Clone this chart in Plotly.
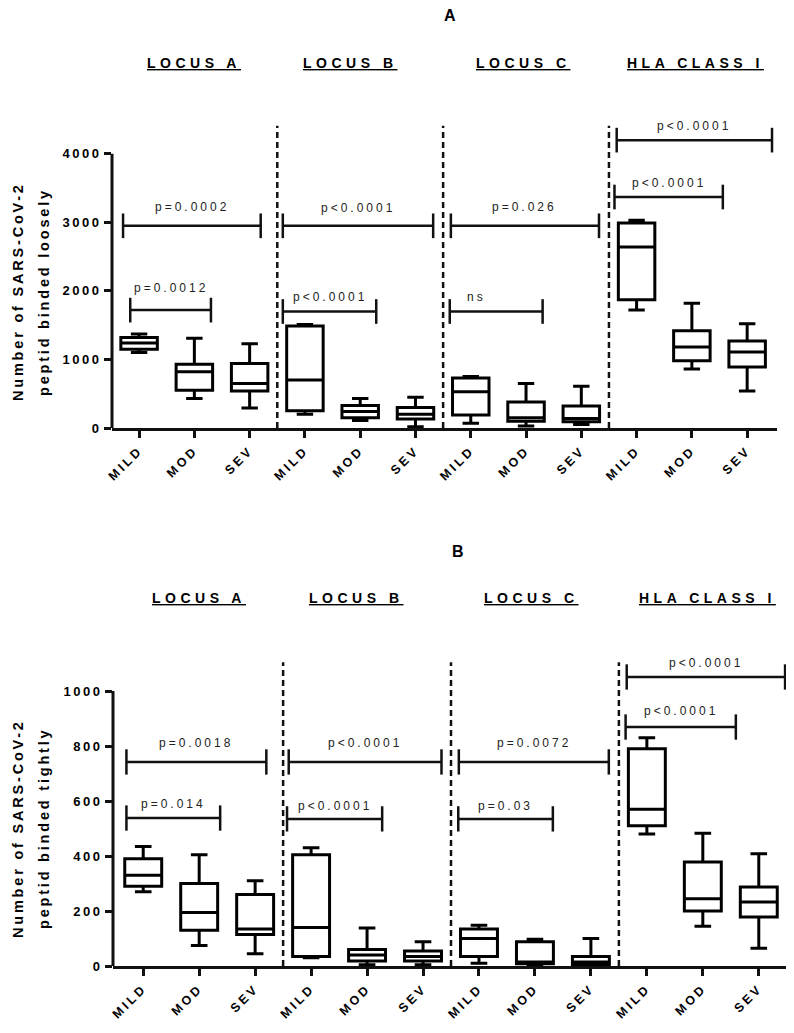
import plotly.graph_objects as go

W, H = 794, 1033
OFF = 8  # page body margin offset of the rendered figure
FONT = "Liberation Sans, Arial, sans-serif"

groups = ["LOCUS A", "LOCUS B", "LOCUS C", "HLA CLASS I"]
severity = ["MILD", "MOD", "SEV"]
tick_labels = [s for g in groups for s in severity]
positions = list(range(len(tick_labels)))

# Panel A: peptides binded loosely
min_A = [1100, 430, 290, 200, 110, 20, 70, 30, 50, 1720, 860, 540]
q1_A = [1150, 550, 540, 250, 150, 130, 190, 100, 90, 1870, 980, 890]
med_A = [1240, 820, 650, 700, 240, 200, 530, 150, 140, 2640, 1180, 1110]
q3_A = [1320, 930, 940, 1490, 330, 300, 730, 380, 320, 2990, 1420, 1270]
max_A = [1370, 1310, 1230, 1510, 430, 450, 750, 650, 610, 3030, 1820, 1520]

# Panel B: peptides binded tightly
min_B = [270, 75, 45, 30, 5, 5, 10, 2, 0, 480, 145, 65]
q1_B = [290, 130, 115, 35, 18, 18, 35, 8, 5, 510, 200, 178]
med_B = [330, 195, 135, 140, 40, 35, 100, 15, 15, 570, 245, 233]
q3_B = [390, 300, 260, 405, 60, 55, 135, 88, 35, 790, 378, 287]
max_B = [435, 405, 310, 430, 138, 88, 148, 97, 100, 830, 483, 408]

yticks_A = [0, 1000, 2000, 3000, 4000]
yticks_B = [0, 200, 400, 600, 800, 1000]

# significance labels (x0, x1, y, label, label offset px)
sig_A = [(-0.29, 2.2, 2950, "p=0.0002", 19), (-0.16, 1.3, 1720, "p=0.0012", 22),
         (2.6, 5.32, 2950, "p<0.0001", 18), (2.6, 4.29, 1700, "p<0.0001", 14),
         (5.64, 8.32, 2950, "p=0.026", 19), (5.62, 7.3, 1700, "ns", 14),
         (8.64, 11.45, 4200, "p<0.0001", 14), (8.6, 10.56, 3370, "p<0.0001", 14)]
sig_B = [(-0.3, 2.2, 742, "p=0.0018", 19), (-0.3, 1.375, 538, "p=0.014", 14),
         (2.6, 5.33, 742, "p<0.0001", 19), (2.57, 4.27, 535, "p<0.0001", 13),
         (5.64, 8.32, 742, "p=0.0072", 19), (5.63, 7.32, 535, "p=0.03", 13),
         (8.64, 11.47, 1051, "p<0.0001", 14), (8.62, 10.59, 869, "p<0.0001", 16)]

ytitle_A = ["Number of SARS-CoV-2", "peptid binded loosely"]
ytitle_B = ["Number of SARS-CoV-2", "peptid binded tightly"]


def sp(text, ls):
    return f'<span style="letter-spacing:{ls}px">{text}</span>'


def px_x(p):
    return (p - OFF) / W


def px_y(p):
    return 1 - (p - OFF) / H


fig = go.Figure()

panels = [
    dict(xa="x", ya="y", mn=min_A, q1=q1_A, md=med_A, q3=q3_A, mx=max_A,
         xdom=[px_x(112), px_x(777)], xr=[-0.49, 11.54],
         ydom=[px_y(428), px_y(123)], yr=[0, 4450], yt=yticks_A, ytop=4000,
         dash_top=4410, tickh=180, sig=sig_A, title="A", title_xy=(450, 15),
         head_y=63, head_x=[1, 3.82, 6.95, 10.07], ytitle=ytitle_A, ytitle_y=292),
    dict(xa="x2", ya="y2", mn=min_B, q1=q1_B, md=med_B, q3=q3_B, mx=max_B,
         xdom=[px_x(113), px_x(789)], xr=[-0.54, 11.54],
         ydom=[px_y(966), px_y(658)], yr=[0, 1120], yt=yticks_B, ytop=1000,
         dash_top=1105, tickh=46, sig=sig_B, title="B", title_xy=(458, 551),
         head_y=598, head_x=[1, 3.82, 6.93, 10.09], ytitle=ytitle_B, ytitle_y=829),
]

shapes = []
annotations = []
LC = "#111111"

for i, p in enumerate(panels):
    fig.add_trace(go.Box(
        x=positions, q1=p["q1"], median=p["md"], q3=p["q3"],
        lowerfence=p["mn"], upperfence=p["mx"],
        width=0.66, whiskerwidth=0.45,
        line=dict(color="black", width=3), fillcolor="white",
        boxpoints=False, hoverinfo="skip", showlegend=False,
        xaxis=p["xa"], yaxis=p["ya"]))

    sfx = "" if i == 0 else "2"
    fig.update_layout(**{
        "xaxis" + sfx: dict(domain=p["xdom"], range=p["xr"], tickvals=positions,
                            ticktext=[sp(t, 3) for t in tick_labels], tickangle=-45,
                            tickfont=dict(size=12.5, weight="bold", color="black", family=FONT),
                            showline=True, linecolor=LC, linewidth=3, ticks="outside",
                            ticklen=7, tickwidth=2.5, tickcolor=LC, showgrid=False,
                            zeroline=False, anchor="y" + sfx, fixedrange=True,
                            automargin=False),
        "yaxis" + sfx: dict(domain=p["ydom"], range=p["yr"], tickvals=p["yt"],
                            ticktext=[sp(v, 2.5) for v in p["yt"]],
                            tickfont=dict(size=13, weight="bold", color="black", family=FONT),
                            showline=False, ticks="outside", ticklen=7, tickwidth=2.5,
                            tickcolor=LC, showgrid=False, zeroline=False,
                            anchor="x" + sfx, fixedrange=True, automargin=False),
    })

    # y axis line only up to top tick
    shapes.append(dict(type="line", xref=p["xa"] + " domain", yref=p["ya"],
                       x0=0, x1=0, y0=0, y1=p["ytop"], line=dict(color=LC, width=3)))
    # dashed separators
    for xs in [2.5, 5.5, 8.5]:
        shapes.append(dict(type="line", xref=p["xa"], yref=p["ya"], x0=xs, x1=xs,
                           y0=0, y1=p["dash_top"], line=dict(color=LC, width=2.5, dash="6px,4px")))
    # significance brackets
    for (x0, x1, yv, lab, off) in p["sig"]:
        h = p["tickh"]
        shapes.append(dict(type="line", xref=p["xa"], yref=p["ya"], x0=x0, x1=x1,
                           y0=yv, y1=yv, line=dict(color=LC, width=2.5)))
        for xe in (x0, x1):
            shapes.append(dict(type="line", xref=p["xa"], yref=p["ya"], x0=xe, x1=xe,
                               y0=yv - h, y1=yv + h, line=dict(color=LC, width=2.5)))
        annotations.append(dict(xref=p["xa"], yref=p["ya"], x=(x0 + x1) / 2, y=yv,
                                yshift=off, xshift=(-20 if lab == "ns" else 0),
                                text=sp(lab, 3), showarrow=False, yanchor="middle",
                                xanchor="center",
                                font=dict(size=12, color="#222222", family=FONT)))
    # headers
    for g, hx in zip(groups, p["head_x"]):
        annotations.append(dict(xref=p["xa"], yref="paper", x=hx, y=px_y(p["head_y"]),
                                text=sp(g, 4.5), showarrow=False, yanchor="middle",
                                xanchor="center",
                                font=dict(size=14, weight="bold", color="black",
                                          family=FONT, lineposition="under")))
    # panel title
    annotations.append(dict(xref="paper", yref="paper", x=px_x(p["title_xy"][0]),
                            y=px_y(p["title_xy"][1]), text="<b>" + p["title"] + "</b>",
                            showarrow=False, xanchor="center", yanchor="middle",
                            font=dict(size=16, color="black", family=FONT)))
    # y title (two lines)
    for xpx, line in zip([18, 44], p["ytitle"]):
        annotations.append(dict(xref="paper", yref="paper", x=px_x(xpx), y=px_y(p["ytitle_y"]),
                                text=sp(line, 2.8), textangle=-90, showarrow=False,
                                xanchor="center", yanchor="middle",
                                font=dict(size=14.5, weight="bold", color="black", family=FONT)))

fig.update_layout(width=W, height=H, margin=dict(l=0, r=0, t=0, b=0, autoexpand=False),
                  plot_bgcolor="white", paper_bgcolor="white",
                  font=dict(family=FONT, color="black"),
                  shapes=shapes, annotations=annotations, showlegend=False)

fig.write_html("out.html")
